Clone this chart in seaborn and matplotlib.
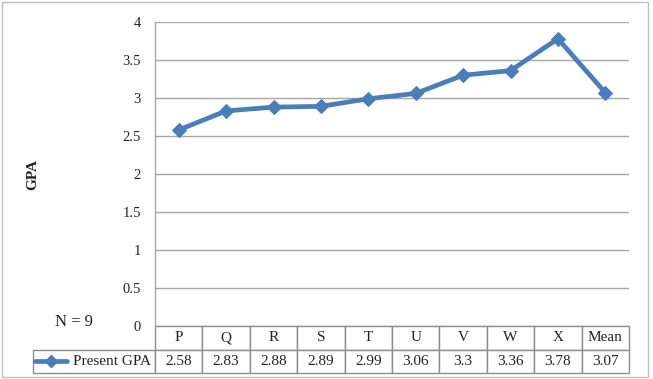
import matplotlib
matplotlib.use('Agg')
import matplotlib.pyplot as plt
import seaborn as sns
import pandas as pd
from matplotlib.patches import Rectangle

categories = ['P', 'Q', 'R', 'S', 'T', 'U', 'V', 'W', 'X', 'Mean']
gpa = [2.58, 2.83, 2.88, 2.89, 2.99, 3.06, 3.3, 3.36, 3.78, 3.07]
series_name = 'Present GPA'
yticks = [0, 0.5, 1, 1.5, 2, 2.5, 3, 3.5, 4]
y_label = 'GPA'
note = 'N = 9'

sns.set_theme(style='white')
plt.rcParams['font.family'] = ['Liberation Serif', 'DejaVu Serif']

W, H = 653, 379
fig = plt.figure(figsize=(W / 100, H / 100), dpi=100)
L, R, T, B = 155, 629, 22, 326
ax = fig.add_axes([L / W, 1 - B / H, (R - L) / W, (B - T) / H])

df = pd.DataFrame({'cat': categories, 'gpa': gpa})
blue = '#4A7EBB'
sns.lineplot(data=df, x='cat', y='gpa', sort=False, ax=ax, color=blue,
             linewidth=3.4, marker='D', markersize=7.5,
             markeredgecolor=blue, markerfacecolor=blue)
ax.set_xlim(-0.5, len(categories) - 0.5)
ax.set_ylim(0, 4)
ax.set_yticks(yticks)
ax.set_yticklabels([f'{v:g}' for v in yticks])
ax.tick_params(axis='y', length=0, pad=10, labelsize=10.5, colors='#222222')
ax.set_xticks([])
ax.set_xlabel('')
ax.set_ylabel('')
ax.grid(axis='y', color='#A6A6A6', linewidth=1)
for s in ['top', 'right', 'bottom']:
    ax.spines[s].set_visible(False)
ax.spines['left'].set_color('#A6A6A6')
ax.spines['left'].set_linewidth(1)

# data table
ncol = len(categories)
axw = R - L
lab_w = 122 / axw
col_w = 1 / ncol
tb_h = (373 - 326) / (B - T)
tbl = ax.table(cellText=[[series_name] + [f'{v:g}' for v in gpa]],
               colLabels=[''] + categories,
               colWidths=[lab_w] + [col_w] * ncol,
               cellLoc='center',
               bbox=[-lab_w, -tb_h, 1 + lab_w, tb_h])
tbl.auto_set_font_size(False)
tbl.set_fontsize(11)
for (r, c), cell in tbl.get_celld().items():
    cell.set_edgecolor('#8C8C8C')
    cell.set_linewidth(1)
    cell.get_text().set_color('#222222')
    if r == 0 and c == 0:
        cell.visible_edges = 'open'
    if r == 1 and c == 0:
        cell._loc = 'right'
        cell.PAD = 0.03
        cell.get_text().set_ha('right')

# legend key inside the table row label
gx0, gx1 = (35 - L) / axw, (67 - L) / axw
gy = -(361 - 326) / (B - T)
ax.plot([gx0, gx1], [gy, gy], transform=ax.transAxes, clip_on=False,
        color=blue, lw=3.4, zorder=5, solid_capstyle='round')
ax.plot([(gx0 + gx1) / 2], [gy], transform=ax.transAxes, clip_on=False,
        marker='D', markersize=6, color=blue, zorder=6)

fig.text(33 / W, 1 - 174 / H, y_label, rotation=90, weight='bold',
         ha='center', va='center', fontsize=11, color='#222222')
fig.text(74 / W, 1 - 322 / H, note, ha='center', va='center',
         fontsize=12, color='#222222')

fig.add_artist(Rectangle((2 / W, 2 / H), (648 - 2) / W, (377 - 2) / H,
                         transform=fig.transFigure, fill=False,
                         edgecolor='#BFBFBF', linewidth=1))

fig.savefig('out.png', dpi=100)
